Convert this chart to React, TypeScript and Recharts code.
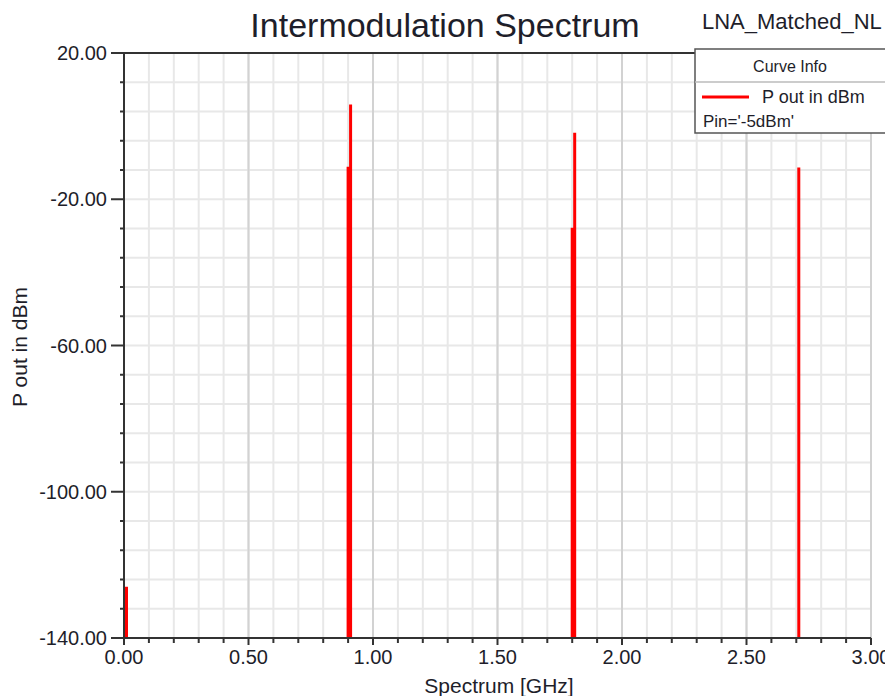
import React from "react";
import { LineChart, Line, XAxis, YAxis, CartesianGrid, ReferenceLine } from "recharts";

const spikeFreqGHz = [0.01, 0.9, 0.91, 1.8, 1.81, 2.71];
const spikePoutDbm = [-126, -11.1, 5.9, -27.8, -1.8, -11.3];
const floorDbm = -140;

const xTicksMinor = [0, 0.1, 0.2, 0.3, 0.4, 0.5, 0.6, 0.7, 0.8, 0.9, 1.0, 1.1, 1.2, 1.3, 1.4, 1.5, 1.6, 1.7, 1.8, 1.9, 2.0, 2.1, 2.2, 2.3, 2.4, 2.5, 2.6, 2.7, 2.8, 2.9, 3.0];
const xTicksMajor = [0, 0.5, 1.0, 1.5, 2.0, 2.5, 3.0];
const yTicksMinor = [20, 12, 4, -4, -12, -20, -28, -36, -44, -52, -60, -68, -76, -84, -92, -100, -108, -116, -124, -132, -140];
const yTicksMajor = [20, -20, -60, -100, -140];

const data: { f: number; p: number | null }[] = [];
spikeFreqGHz.forEach((f, i) => {
  data.push({ f, p: floorDbm });
  data.push({ f, p: spikePoutDbm[i] });
  data.push({ f, p: null });
});

const FONT = "'Liberation Sans', Arial, sans-serif";

const isMajorX = (v: number) => xTicksMajor.some((m) => Math.abs(m - v) < 1e-6);
const isMajorY = (v: number) => yTicksMajor.some((m) => Math.abs(m - v) < 1e-6);

const YTick = (props: any) => {
  const { x, y, payload } = props;
  const major = isMajorY(payload.value);
  return (
    <g>
      <line x1={x - (major ? 13 : 4)} x2={x} y1={y} y2={y} stroke="#333" strokeWidth={2} />
      {major && (
        <text x={x - 17} y={y} dy="0.36em" textAnchor="end" fontSize={20} fontFamily={FONT} fill="#1e1e2a">
          {Number(payload.value).toFixed(2)}
        </text>
      )}
    </g>
  );
};

const XTick = (props: any) => {
  const { x, y, payload } = props;
  const major = isMajorX(payload.value);
  return (
    <g>
      <line x1={x} x2={x} y1={y} y2={y + (major ? 7 : 5)} stroke="#333" strokeWidth={2} />
      {major && (
        <text x={x} y={y + 26} textAnchor="middle" fontSize={20} fontFamily={FONT} fill="#1e1e2a">
          {Number(payload.value).toFixed(2)}
        </text>
      )}
    </g>
  );
};

export default function App() {
  return (
    <div style={{ position: "relative", width: 885, height: 688, overflow: "hidden", background: "#fff" }}>
      <LineChart width={885} height={688} data={data} margin={{ top: 45, right: 22, left: 56, bottom: 28 }}>
        <XAxis
          dataKey="f"
          type="number"
          domain={[0, 3]}
          ticks={xTicksMinor}
          interval={0}
          tickSize={0}
          tickMargin={0}
          tickLine={false}
          tick={<XTick />}
          axisLine={{ stroke: "#333", strokeWidth: 2 }}
          height={30}
          allowDataOverflow
        />
        <YAxis
          type="number"
          domain={[-140, 20]}
          ticks={yTicksMinor}
          interval={0}
          tickSize={0}
          tickMargin={0}
          tickLine={false}
          tick={<YTick />}
          axisLine={{ stroke: "#333", strokeWidth: 2 }}
          width={60}
          allowDataOverflow
        />
        <XAxis xAxisId="major" dataKey="f" type="number" domain={[0, 3]} ticks={xTicksMajor} hide />
        <YAxis yAxisId="major" type="number" domain={[-140, 20]} ticks={yTicksMajor} hide />
        <CartesianGrid stroke="#e8e8e8" strokeWidth={2} />
        <CartesianGrid xAxisId="major" yAxisId="major" stroke="#d2d2d2" strokeWidth={2} />
        <ReferenceLine y={20} stroke="#333" strokeWidth={2} />
        <Line
          type="linear"
          dataKey="p"
          stroke="#ff0000"
          strokeWidth={3}
          dot={false}
          activeDot={false}
          connectNulls={false}
          isAnimationActive={false}
        />
      </LineChart>
      <svg
        width={885}
        height={688}
        style={{ position: "absolute", left: 0, top: 0, pointerEvents: "none" }}
      >
        <text x={437} y={29} textAnchor="middle" fontSize={34} fontFamily={FONT} fill="#1e1e2a">
          Intermodulation Spectrum
        </text>
        <text x={694} y={21} fontSize={22} fontFamily={FONT} fill="#1e1e2a">
          LNA_Matched_NL
        </text>
        <rect x={687} y={41} width={192} height={84} fill="#fff" stroke="#555" strokeWidth={1.5} />
        <line x1={687} x2={879} y1={74} y2={74} stroke="#bbb" strokeWidth={1.5} />
        <text x={782} y={64} textAnchor="middle" fontSize={16} fontFamily={FONT} fill="#1e1e2a">
          Curve Info
        </text>
        <line x1={694} x2={741} y1={89} y2={89} stroke="#ff0000" strokeWidth={3} />
        <text x={754} y={95} fontSize={18} fontFamily={FONT} fill="#1e1e2a">
          P out in dBm
        </text>
        <text x={695} y={119} fontSize={17} fontFamily={FONT} fill="#1e1e2a">
          Pin='-5dBm'
        </text>
        <text
          x={12}
          y={339}
          textAnchor="middle"
          fontSize={21}
          fontFamily={FONT}
          fill="#1e1e2a"
          transform="rotate(-90 12 339)"
          dy="0.35em"
        >
          P out in dBm
        </text>
        <text x={491} y={685} textAnchor="middle" fontSize={21} fontFamily={FONT} fill="#1e1e2a">
          Spectrum [GHz]
        </text>
      </svg>
    </div>
  );
}
